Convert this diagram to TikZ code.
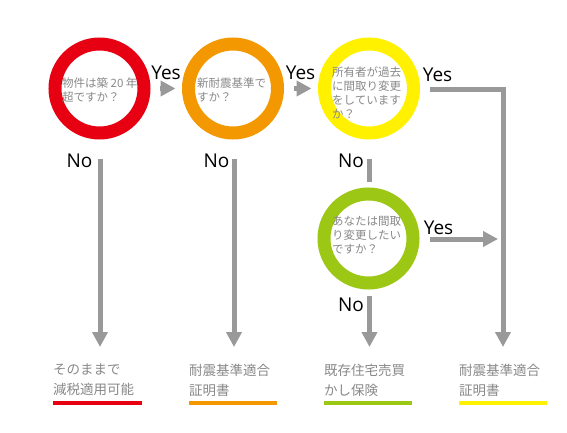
\documentclass[tikz,border=0pt]{standalone}
\usepackage{fontspec}
\usetikzlibrary{arrows.meta}
\newfontfamily\jp{Noto Sans CJK JP}
\newfontfamily\lat{Open Sans}
\definecolor{cred}{HTML}{E60012}
\definecolor{corange}{HTML}{F39800}
\definecolor{cyellow}{HTML}{FFF100}
\definecolor{cgreen}{HTML}{9CC715}
\definecolor{agray}{HTML}{999999}
\definecolor{tgray}{HTML}{888888}
\begin{document}
\begin{tikzpicture}[x=1pt,y=-1pt,
  ring/.style={circle,draw=#1,line width=13pt,minimum size=89pt,inner sep=0pt},
  qtext/.style={font=\jp\fontsize{11.5}{14}\selectfont,text=tgray,align=left,inner sep=0pt,anchor=west},
  yn/.style={font=\lat\fontsize{19}{20}\selectfont,text=black,inner sep=0pt},
  flow/.style={draw=agray,line width=5pt},
  flowarrow/.style={flow,-{Triangle[width=15pt,length=15pt]}},
  result/.style={font=\jp\fontsize{13.5}{20}\selectfont,text=tgray,align=left,inner sep=0pt,anchor=west},
  bar/.style={line width=4pt,draw=#1}]
\useasboundingbox (0,0) rectangle (567,433);
% rings
\node[ring=cred] (c1) at (99.5,88.5) {};
\node[ring=corange] (c2) at (233,88.5) {};
\node[ring=cyellow] (c3) at (369,88.5) {};
\node[ring=cgreen] (c4) at (368.5,238.5) {};
% questions
\node[qtext] (q1) at (62,90) {物件は築\kern2.5pt 20\kern2.5pt 年\\超ですか？};
\node[qtext] (q2) at (197,90) {新耐震基準で\\すか？};
\node[qtext] (q3) at (332,93) {所有者が過去\\に間取り変更\\をしています\\か？};
\node[qtext] (q4) at (332,235) {あなたは間取\\り変更したい\\ですか？};
% results
\node[result] (r1) at (53,380) {そのままで\\減税適用可能};
\node[result] (r2) at (189,380) {耐震基準適合\\証明書};
\node[result] (r3) at (324,380) {既存住宅売買\\かし保険};
\node[result] (r4) at (459,380) {耐震基準適合\\証明書};
% coordinates for arrow ends
\coordinate (t1) at (100,347);
\coordinate (t2) at (234,347);
\coordinate (t3) at (369.5,347);
\coordinate (t4) at (503,347);
\coordinate (k3) at (503,90);
\coordinate (m4) at (498,239);
% connectors
\draw[flowarrow] ([xshift=9pt]c1.east) -- ([xshift=-6.5pt]c2.west);
\draw[flowarrow] ([xshift=10pt]c2.east) -- ([xshift=-6.5pt]c3.west);
\draw[flowarrow] ([xshift=9.5pt,yshift=-1.5pt]c3.east) -- (k3) -- (t4);
\draw[flowarrow] ([xshift=10pt,yshift=-0.5pt]c4.east) -- (m4);
\draw[flowarrow] ([xshift=0.5pt,yshift=-19pt]c1.south) -- (t1);
\draw[flowarrow] ([xshift=1pt,yshift=-19pt]c2.south) -- (t2);
\draw[flow] ([xshift=0.5pt,yshift=-19pt]c3.south) -- ([xshift=1pt,yshift=6pt]c4.north);
\draw[flowarrow] ([xshift=1pt,yshift=-6pt]c4.south) -- (t3);
% labels
\node[yn] (y1) at (166,72.5) {Yes};
\node[yn] (y2) at (300.5,72.5) {Yes};
\node[yn] (y3) at (437.5,75) {Yes};
\node[yn] (y4) at (438.5,227.5) {Yes};
\node[yn] (n1) at (79.5,160.5) {No};
\node[yn] (n2) at (216.5,160.5) {No};
\node[yn] (n3) at (351,160.5) {No};
\node[yn] (n4) at (351,305) {No};
% bars
\draw[bar=cred] (53,403) -- (142,403);
\draw[bar=corange] (189,403) -- (277,403);
\draw[bar=cgreen] (324,403) -- (412,403);
\draw[bar=cyellow] (459,403) -- (547,403);
\end{tikzpicture}
\end{document}
